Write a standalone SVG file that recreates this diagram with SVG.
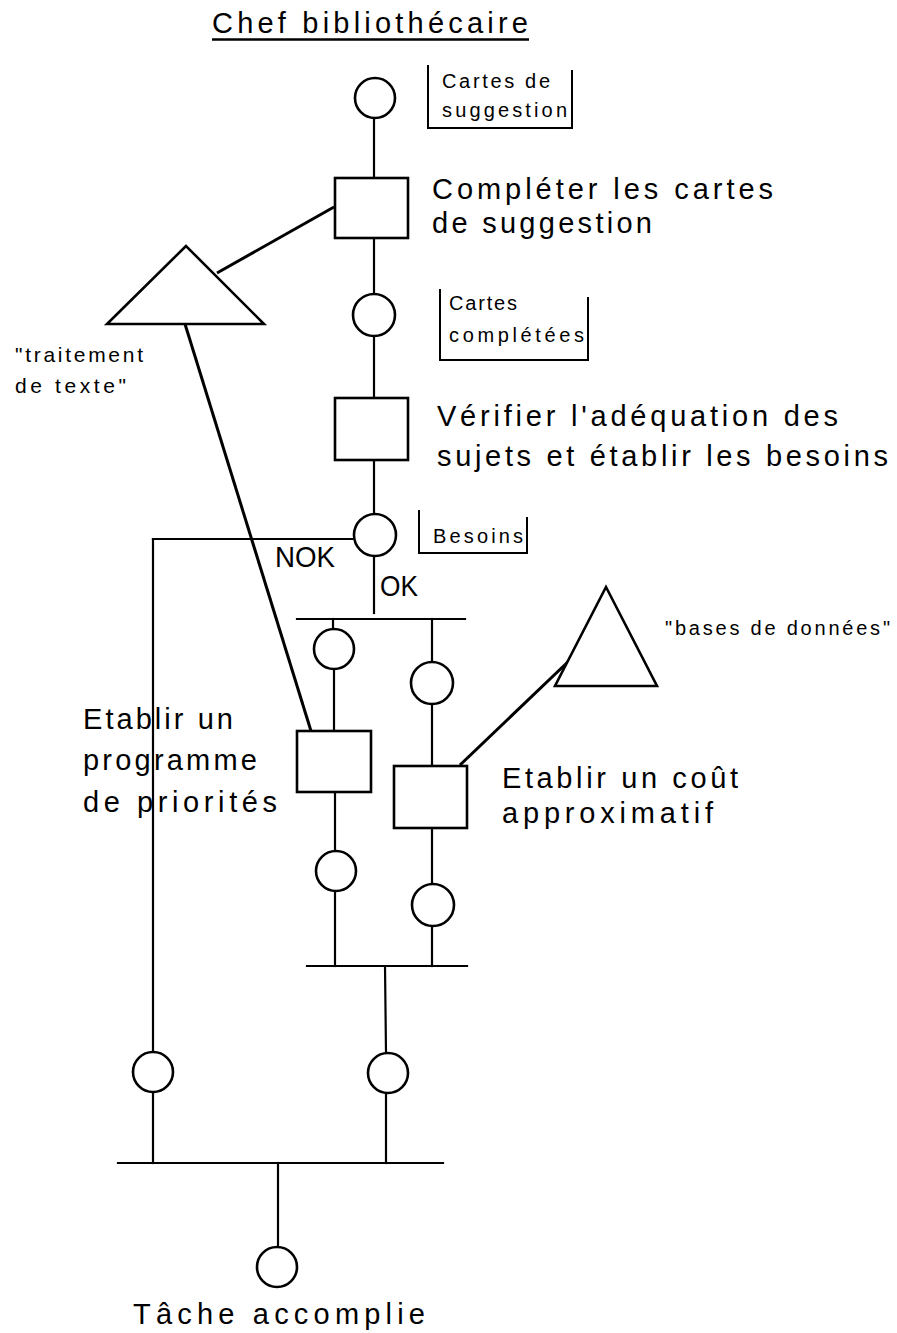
<svg xmlns="http://www.w3.org/2000/svg" width="897" height="1333" viewBox="0 0 897 1333">
<style>
.ln{stroke:#000;stroke-width:2.2;fill:none;stroke-linecap:square}
.tl{stroke:#000;stroke-width:3;fill:none}
.pl{stroke:#000;stroke-width:2.6;fill:#fff}
.br{stroke:#000;stroke-width:2;fill:none}
text{font-family:"Liberation Sans",Arial,sans-serif;fill:#000}
.big{font-size:29px}
.ttl{font-size:29px}
.sm{font-size:20px}
.md{font-size:21px}
.ok{font-size:30px}
</style>
<rect width="897" height="1333" fill="#fff"/>
<g id="title">
<text class="ttl" x="212" y="33" textLength="316" lengthAdjust="spacing">Chef  bibliothécaire</text>
<line x1="212" y1="39.5" x2="529" y2="39.5" stroke="#000" stroke-width="2.4"/>
</g>
<g id="connectors">
<line class="ln" x1="374" y1="118" x2="374" y2="178"/>
<line class="ln" x1="374" y1="238" x2="374" y2="294"/>
<line class="ln" x1="374" y1="336" x2="374" y2="398"/>
<line class="ln" x1="374" y1="460" x2="374" y2="514"/>
<line class="ln" x1="374" y1="556" x2="374" y2="613"/>
<line class="ln" x1="354" y1="539" x2="153" y2="539"/>
<line class="ln" x1="153" y1="539" x2="153" y2="1052"/>
<line class="ln" x1="153" y1="1092" x2="153" y2="1163"/>
<line class="ln" x1="297" y1="619" x2="465" y2="619"/>
<line class="ln" x1="333" y1="619" x2="333" y2="629"/>
<line class="ln" x1="334" y1="669" x2="334" y2="731"/>
<line class="ln" x1="335" y1="792" x2="335" y2="851"/>
<line class="ln" x1="335" y1="891" x2="335" y2="966"/>
<line class="ln" x1="432" y1="619" x2="432" y2="662"/>
<line class="ln" x1="432" y1="704" x2="432" y2="766"/>
<line class="ln" x1="432" y1="828" x2="432" y2="884"/>
<line class="ln" x1="432" y1="926" x2="432" y2="966"/>
<line class="ln" x1="307" y1="966" x2="467" y2="966"/>
<line class="ln" x1="385" y1="966" x2="386" y2="1053"/>
<line class="ln" x1="386" y1="1093" x2="386" y2="1163"/>
<line class="ln" x1="118" y1="1163" x2="443" y2="1163"/>
<line class="ln" x1="278" y1="1163" x2="278" y2="1247"/>
<line class="tl" x1="217" y1="273" x2="334" y2="207"/>
<line class="tl" x1="185" y1="324" x2="311" y2="731"/>
<line class="tl" x1="460" y1="765" x2="572" y2="658"/>
</g>
<g id="p1"><circle class="pl" cx="375" cy="98" r="20"/></g>
<g id="lbl1">
<path class="br" d="M428 65 V128 H572 V70"/>
<text class="sm" x="442" y="88" textLength="108" lengthAdjust="spacing">Cartes de</text>
<text class="sm" x="442" y="117" textLength="125" lengthAdjust="spacing">suggestion</text>
</g>
<g id="t1">
<rect class="pl" x="335" y="178" width="73" height="60"/>
<text class="big" x="432" y="199" textLength="341" lengthAdjust="spacing">Compléter les cartes</text>
<text class="big" x="432" y="233" textLength="220" lengthAdjust="spacing">de  suggestion</text>
</g>
<g id="tri1">
<polygon class="pl" points="186,246 107,324 264,324" stroke-width="3"/>
<text class="md" x="15" y="362" textLength="128" lengthAdjust="spacing">"traitement</text>
<text class="md" x="15" y="393" textLength="111" lengthAdjust="spacing">de  texte"</text>
</g>
<g id="p2"><circle class="pl" cx="374" cy="315" r="21"/></g>
<g id="lbl2">
<path class="br" d="M440 289 V360 H588 V297"/>
<text class="sm" x="449" y="310" textLength="68" lengthAdjust="spacing">Cartes</text>
<text class="sm" x="449" y="342" textLength="135" lengthAdjust="spacing">complétées</text>
</g>
<g id="t2">
<rect class="pl" x="335" y="398" width="73" height="62"/>
<text class="big" x="437" y="426" textLength="401" lengthAdjust="spacing">Vérifier l'adéquation des</text>
<text class="big" x="437" y="466" textLength="451" lengthAdjust="spacing">sujets et établir les besoins</text>
</g>
<g id="p3"><circle class="pl" cx="375" cy="535" r="21"/></g>
<g id="lbl3">
<path class="br" d="M419 510 V553 H527 V517"/>
<text class="sm" x="433" y="543" textLength="90" lengthAdjust="spacing">Besoins</text>
</g>
<g id="labels">
<text class="ok" x="275" y="567" textLength="60" lengthAdjust="spacingAndGlyphs">NOK</text>
<text class="ok" x="380" y="596" textLength="38" lengthAdjust="spacingAndGlyphs">OK</text>
</g>
<g id="p4"><circle class="pl" cx="334" cy="649" r="20"/></g>
<g id="p5"><circle class="pl" cx="432" cy="683" r="21"/></g>
<g id="t3">
<rect class="pl" x="297" y="731" width="74" height="61"/>
<text class="big" x="83" y="729" textLength="150" lengthAdjust="spacing">Etablir  un</text>
<text class="big" x="83" y="770" textLength="174" lengthAdjust="spacing">programme</text>
<text class="big" x="83" y="812" textLength="194" lengthAdjust="spacing">de  priorités</text>
</g>
<g id="tri2">
<polygon class="pl" points="606,587 555,686 657,686" stroke-width="3"/>
<text class="sm" x="665" y="635" textLength="225" lengthAdjust="spacing">"bases de données"</text>
</g>
<g id="t4">
<rect class="pl" x="394" y="766" width="73" height="62"/>
<text class="big" x="502" y="788" textLength="236" lengthAdjust="spacing">Etablir  un  coût</text>
<text class="big" x="502" y="823" textLength="211" lengthAdjust="spacing">approximatif</text>
</g>
<g id="p6"><circle class="pl" cx="336" cy="871" r="20"/></g>
<g id="p7"><circle class="pl" cx="433" cy="905" r="21"/></g>
<g id="p8"><circle class="pl" cx="388" cy="1073" r="20"/></g>
<g id="p9"><circle class="pl" cx="153" cy="1072" r="20"/></g>
<g id="p10">
<circle class="pl" cx="277" cy="1267" r="20"/>
<text class="big" x="133" y="1324" textLength="292" lengthAdjust="spacing">Tâche  accomplie</text>
</g>
</svg>
